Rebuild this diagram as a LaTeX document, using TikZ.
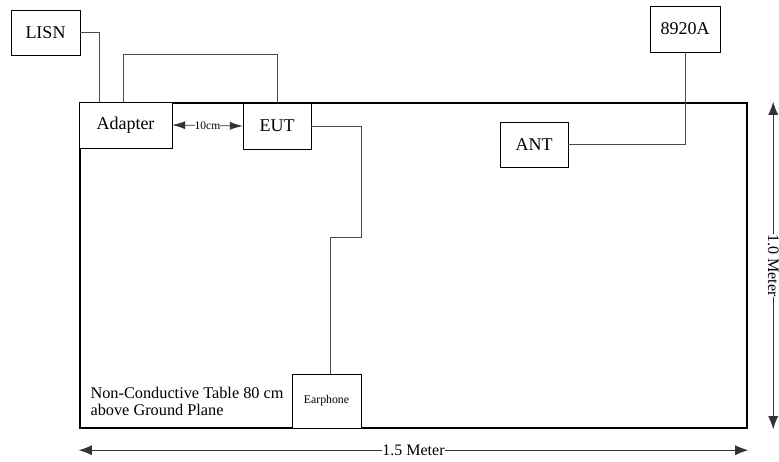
\documentclass[tikz,border=0pt]{standalone}
\usepackage{fontspec}
\setmainfont{Liberation Serif}
\usetikzlibrary{arrows.meta,positioning,calc}

\begin{document}
\begin{tikzpicture}[x=1pt, y=-1pt,
    box/.style={rectangle, draw=black, thin, fill=white, minimum width=#1, minimum height=46pt, inner sep=0pt, font=\fontsize{18}{20}\selectfont},
    wire/.style={draw=black!70, line width=0.8pt},
    dim/.style={draw=black!80, line width=0.8pt, {Latex[length=13pt,width=10pt]}-{Latex[length=13pt,width=10pt]}},
    dimlbl/.style={fill=white, inner sep=0.5pt, font=\fontsize{16}{18}\selectfont}
]
\useasboundingbox (0,0) rectangle (779,461);

% Table
\node[rectangle, draw, line width=2.4pt, minimum width=667pt, minimum height=325pt, inner sep=0pt] (table) at (413.5,265.5) {};
\node[anchor=west, align=left, font=\fontsize{16.3}{17}\selectfont] (tabletxt) at (87,401) {Non-Conductive Table 80 cm\\above Ground Plane};

% Boxes
\node[box=69pt, minimum height=45pt] (lisn) at (45.5,32.5) {LISN};
\node[box=93pt, anchor=north west] (adapter) at (table.north west) {Adapter};
\node[box=68pt] (eut) at (277,126) {EUT};
\node[box=70pt] (hp) at (685,29) {8920A};
\node[box=68pt, minimum height=45pt] (ant) at (534,144.5) {ANT};
\node[box=69pt, minimum height=54pt, font=\fontsize{11.8}{13}\selectfont] (earphone) at (326.5,401) {Earphone};

% Wires
\draw[wire] (lisn.east) -| ([xshift=21pt]adapter.north west);
\draw[wire] ([xshift=45pt]adapter.north west) |- ++(0,-47) -| (eut.north);
\draw[wire] (eut.east) -| ++(50,111) -| ([xshift=3.5pt]earphone.north);
\draw[wire] (ant.east) -| (hp.south);

% Distance between adapter and EUT
\draw[dim, {Latex[length=13pt,width=8pt]}-{Latex[length=13pt,width=8pt]}] (adapter.east) -- (eut.west) node[midway, fill=white, inner sep=0pt, font=\fontsize{11.5}{12}\selectfont] (gap) {10cm};

% Table dimensions
\coordinate (bl) at ([yshift=-21pt]table.south west);
\coordinate (br) at ([yshift=-21pt]table.south east);
\coordinate (rt) at ([xshift=25pt]table.north east);
\coordinate (rb) at ([xshift=25pt]table.south east);
\draw[dim] (bl) -- (br) node[midway, dimlbl] (width) {1.5 Meter};
\draw[dim] (rt) -- (rb) node[midway, dimlbl, rotate=-90] (depth) {1.0 Meter};
\end{tikzpicture}
\end{document}
